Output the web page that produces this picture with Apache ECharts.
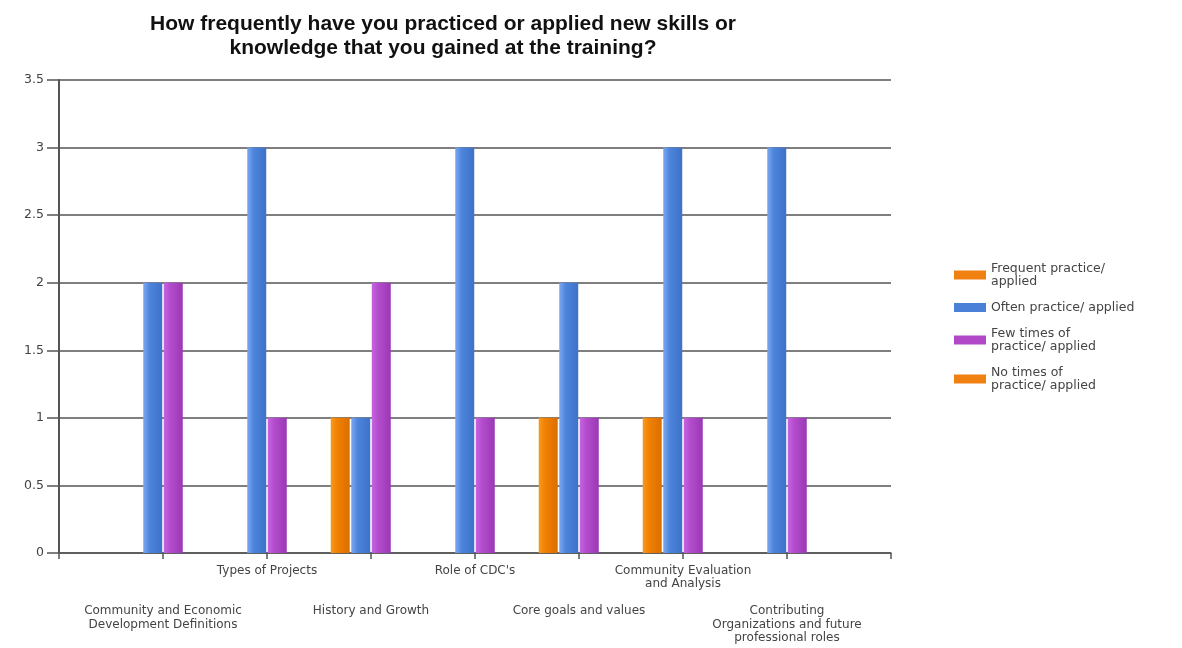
<!DOCTYPE html>
<html>
<head>
<meta charset="utf-8">
<script src="https://cdn.jsdelivr.net/npm/echarts@6/dist/echarts.min.js"></script>
<style>html,body{margin:0;padding:0;background:#fff}#c{width:1182px;height:648px}</style>
</head>
<body>
<div id="c"></div>
<script>
const titleText = 'How frequently have you practiced or applied new skills or\nknowledge that you gained at the training?';
const categories = [
  'Community and Economic\nDevelopment Definitions',
  'Types of Projects',
  'History and Growth',
  "Role of CDC's",
  'Core goals and values',
  'Community Evaluation\nand Analysis',
  'Contributing\nOrganizations and future\nprofessional roles'
];
const seriesNames = [
  'Frequent practice/\napplied',
  'Often practice/ applied',
  'Few times of\npractice/ applied',
  'No times of\npractice/ applied'
];
const frequentValues = [0, 0, 1, 0, 1, 1, 0];
const oftenValues    = [2, 3, 1, 3, 2, 3, 3];
const fewValues      = [2, 1, 2, 1, 1, 1, 1];
const noValues       = [0, 0, 0, 0, 0, 0, 0];
const yTicks = [0, 0.5, 1, 1.5, 2, 2.5, 3, 3.5];

// pad with empty slots on both ends (axis runs one category beyond each side)
const axisCats = [''].concat(categories, ['']);
const pad = arr => ['-'].concat(arr, ['-']);

const flat = ['#f08010', '#4a80d8', '#b048c8', '#f08010'];
const grad = [
  ['#f99a20', '#ef8000', '#dc6e00'],
  ['#7aa8f0', '#4c84dc', '#3f72c8'],
  ['#c864e0', '#b34ccc', '#9a38b4'],
  ['#f99a20', '#ef8000', '#dc6e00']
];
function mk(i, values) {
  return {
    name: seriesNames[i],
    type: 'bar',
    data: pad(values),
    barWidth: 19,
    barGap: '8%',
    itemStyle: {
      color: new echarts.graphic.LinearGradient(0, 0, 1, 0, [
        {offset: 0, color: grad[i][0]},
        {offset: 0.35, color: grad[i][1]},
        {offset: 1, color: grad[i][2]}
      ])
    }
  };
}

const chart = echarts.init(document.getElementById('c'), null, {renderer: 'canvas'});
chart.setOption({
  animation: false,
  backgroundColor: '#ffffff',
  color: flat,
  title: {
    text: titleText,
    left: 438,
    top: 7,
    textAlign: 'center',
    textStyle: {fontFamily: 'Liberation Sans', fontWeight: 'bold', fontSize: 21, lineHeight: 24, color: '#111'}
  },
  legend: {
    orient: 'vertical',
    left: 949,
    top: 257,
    itemWidth: 32,
    itemHeight: 9,
    itemGap: 13,
    icon: 'rect',
    textStyle: {fontFamily: 'DejaVu Sans', fontSize: 12.5, lineHeight: 13, color: '#444'},
    data: seriesNames.map((n, i) => ({name: n, itemStyle: {color: flat[i]}}))
  },
  grid: {left: 59, right: 291, top: 80, bottom: 95, containLabel: false},
  xAxis: {
    type: 'category',
    data: axisCats,
    boundaryGap: false,
    axisLine: {lineStyle: {color: '#555', width: 1.5}},
    axisTick: {show: true, interval: 0, length: 6, lineStyle: {color: '#555', width: 1.5}},
    splitLine: {show: false},
    axisLabel: {
      interval: 0,
      margin: 11,
      fontFamily: 'DejaVu Sans',
      fontSize: 12,
      lineHeight: 13.5,
      color: '#444',
      formatter: (v, idx) => (idx % 2 === 1 ? '\n\n\n' + v : v)
    }
  },
  yAxis: {
    type: 'value',
    min: yTicks[0],
    max: yTicks[yTicks.length - 1],
    interval: 0.5,
    axisLine: {show: true, lineStyle: {color: '#555', width: 2}},
    axisTick: {show: true, length: 12, lineStyle: {color: '#555', width: 1.5}},
    splitLine: {show: true, lineStyle: {color: '#555', width: 1.5}},
    axisLabel: {margin: 15, fontFamily: 'DejaVu Sans', fontSize: 12.5, color: '#444'}
  },
  series: [mk(0, frequentValues), mk(1, oftenValues), mk(2, fewValues), mk(3, noValues)]
});
</script>
</body>
</html>
